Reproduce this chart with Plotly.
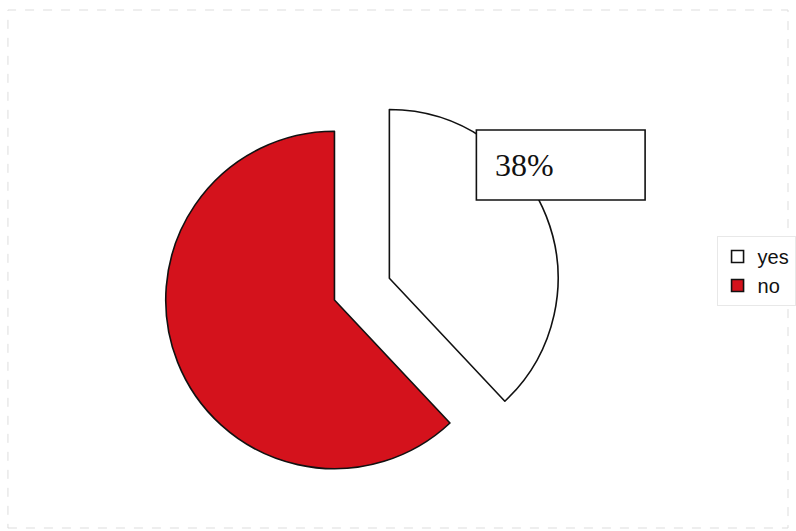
import plotly.graph_objects as go

# Survey answers (percent)
labels = ["yes", "no"]
values = [38, 62]
colors = ["#ffffff", "#d4121c"]
pulls = [0.35, 0]

W, H = 796, 531

# pie centre and radius in pixels
cx, cy, r = 337, 300, 170
half = r * (1 + max(pulls))

fig = go.Figure(
    go.Pie(
        labels=labels,
        values=values,
        sort=False,
        direction="clockwise",
        rotation=0,
        pull=pulls,
        marker=dict(colors=colors, line=dict(color="#111111", width=1.6)),
        textinfo="none",
        hoverinfo="label+percent",
        domain=dict(
            x=[(cx - half) / W, (cx + half) / W],
            y=[(H - cy - half) / H, (H - cy + half) / H],
        ),
    )
)

yes_pct = values[0] / sum(values) * 100

# boxed percentage label for the "yes" slice
fig.add_shape(
    type="rect", xref="paper", yref="paper",
    x0=480 / W, x1=650 / W, y0=(H - 200) / H, y1=(H - 130) / H,
    line=dict(color="#111111", width=1.6), fillcolor="white", layer="above",
)
fig.add_annotation(
    x=497 / W, y=(H - 165) / H, xref="paper", yref="paper",
    xanchor="left", yanchor="middle", showarrow=False,
    text=f"{yes_pct:.0f}%",
    font=dict(family="Liberation Serif, Times New Roman, serif", size=32, color="#111111"),
)

# faint dashed outer frame
fig.add_shape(
    type="rect", xref="paper", yref="paper",
    x0=8 / W, x1=794 / W, y0=(H - 528) / H, y1=(H - 10) / H,
    line=dict(color="#dddddd", width=1, dash="dash"), layer="below",
)

fig.update_layout(
    width=W, height=H,
    margin=dict(l=0, r=0, t=0, b=0),
    paper_bgcolor="white",
    plot_bgcolor="white",
    showlegend=True,
    legend=dict(
        x=722 / W, y=(H - 236) / H, xanchor="left", yanchor="top",
        font=dict(family="Liberation Sans, Arial, sans-serif", size=20, color="#111111"),
        bgcolor="white", bordercolor="#e8e8e8", borderwidth=1,
        itemwidth=30,
    ),
)

fig.write_html("out.html")
